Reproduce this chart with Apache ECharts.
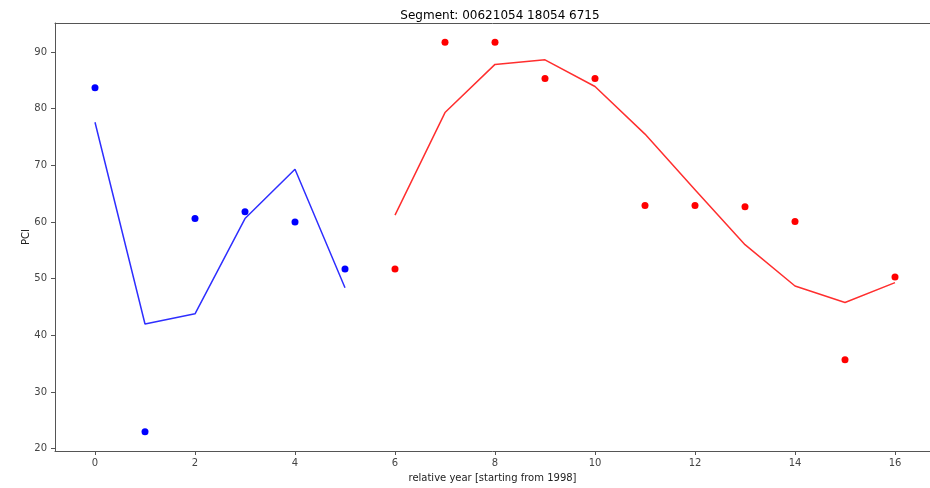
<!DOCTYPE html>
<html>
<head>
<meta charset="utf-8">
<title>PCI segment</title>
<script src="https://cdn.jsdelivr.net/npm/echarts@6/dist/echarts.min.js"></script>
<style>
  html, body { margin: 0; padding: 0; background: #fff; }
  #main { width: 930px; height: 488px; }
</style>
</head>
<body>
<div id="main"></div>
<script>
// data
var yearsA = [0, 1, 2, 3, 4, 5];
var pciA = [83.7, 23.0, 60.6, 61.8, 60.0, 51.7];
var fitA = [77.6, 42.0, 43.8, 60.6, 69.3, 48.4];

var yearsB = [6, 7, 8, 9, 10, 11, 12, 13, 14, 15, 16];
var pciB = [51.7, 91.7, 91.7, 85.3, 85.3, 62.9, 62.9, 62.7, 60.1, 35.7, 50.3];
var fitB = [61.2, 79.3, 87.8, 88.6, 83.9, 75.5, 65.7, 56.0, 48.7, 45.8, 49.3];

var xTicks = [0, 2, 4, 6, 8, 10, 12, 14, 16];
var yTicks = [20, 30, 40, 50, 60, 70, 80, 90];

function pairs(xs, ys) {
  return xs.map(function (x, i) { return [x, ys[i]]; });
}

var font = 'DejaVu Sans';
var spine = { show: true, onZero: false, lineStyle: { color: '#555', width: 1 } };
var chart = echarts.init(document.getElementById('main'), null, { renderer: 'canvas' });

chart.setOption({
  animation: false,
  title: {
    text: 'Segment: 00621054 18054 6715',
    left: 495, top: 5, textAlign: 'center',
    textStyle: { fontFamily: font, fontSize: 12, fontWeight: 'normal', color: '#000' }
  },
  // no right spine: the axes run on past the right edge
  grid: { left: 55, top: 23, right: 0, bottom: 36 },
  xAxis: [{
    type: 'value', min: -0.8, max: 16.7,
    name: 'relative year [starting from 1998]',
    nameLocation: 'middle', nameGap: 22,
    nameTextStyle: { fontFamily: font, fontSize: 10, color: '#222' },
    splitLine: { show: false },
    axisLine: spine,
    axisTick: { customValues: xTicks, length: 4, lineStyle: { color: '#555' } },
    axisLabel: { customValues: xTicks, fontFamily: font, fontSize: 10, color: '#444', margin: 7 }
  }, {
    type: 'value', position: 'top', min: -0.8, max: 16.7,
    axisLine: spine, axisTick: { show: false }, axisLabel: { show: false },
    splitLine: { show: false }
  }],
  yAxis: {
    type: 'value', min: 19.6, max: 95.1,
    name: 'PCI',
    nameLocation: 'middle', nameGap: 24, nameMoveOverlap: false,
    nameTextStyle: { fontFamily: font, fontSize: 10, color: '#222' },
    splitLine: { show: false },
    axisLine: spine,
    axisTick: { customValues: yTicks, length: 4, lineStyle: { color: '#555' } },
    axisLabel: { customValues: yTicks, fontFamily: font, fontSize: 10, color: '#444', margin: 8 }
  },
  series: [
    {
      type: 'line', data: pairs(yearsA, fitA), showSymbol: false,
      lineStyle: { color: 'rgba(0,0,255,0.82)', width: 1.5 }
    },
    {
      type: 'scatter', data: pairs(yearsA, pciA), symbolSize: 7,
      itemStyle: { color: '#0000ff', opacity: 1 }
    },
    {
      type: 'line', data: pairs(yearsB, fitB), showSymbol: false,
      lineStyle: { color: 'rgba(255,0,0,0.82)', width: 1.5 }
    },
    {
      type: 'scatter', data: pairs(yearsB, pciB), symbolSize: 7,
      itemStyle: { color: '#ff0000', opacity: 1 }
    }
  ]
});
</script>
</body>
</html>
